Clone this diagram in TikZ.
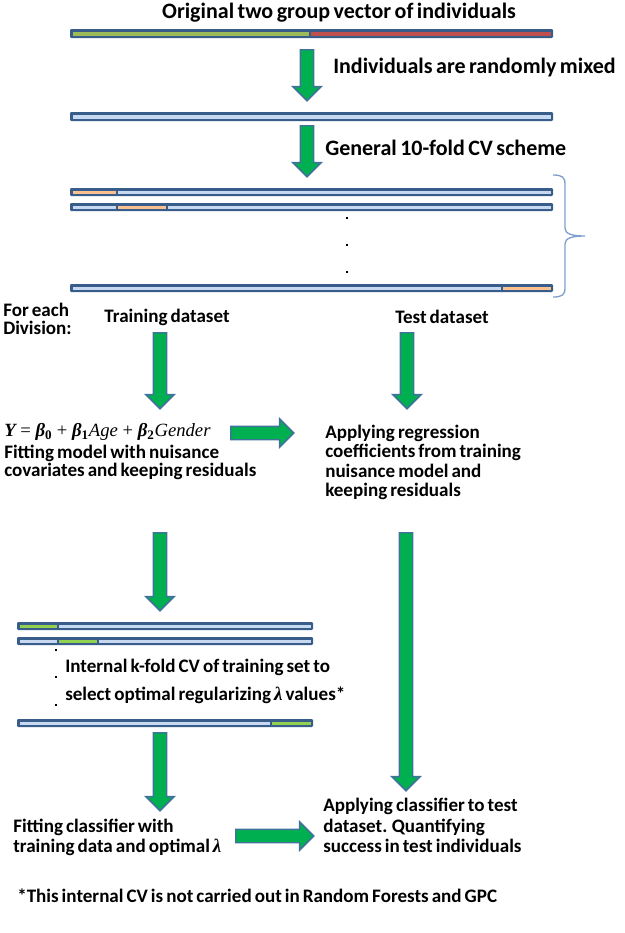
\documentclass[tikz,border=0pt]{standalone}
\usepackage{fontspec}
\setmainfont[WordSpace=0.7]{Carlito}
\newfontfamily\tms{Liberation Serif}
\usetikzlibrary{shapes.arrows,decorations.pathreplacing}
\definecolor{barblue}{HTML}{385D8A}
\definecolor{barfill}{HTML}{C6D9F1}
\definecolor{grpone}{HTML}{9BBB59}
\definecolor{grptwo}{HTML}{C0504D}
\definecolor{testorange}{HTML}{FAC090}
\definecolor{valgreen}{HTML}{92D050}
\definecolor{arrgreen}{HTML}{00B050}
\definecolor{arrblue}{HTML}{41719C}
\definecolor{bracecol}{HTML}{7F9FCF}
\newcommand{\cvbar}[5]{%
  \fill[barblue, rounded corners=0.8pt] (#1,#2) rectangle (#3,#4);
  \foreach \sa/\sb/\sc in {#5} {\fill[\sc] (\sa,#2+2.5) rectangle (\sb,#4-2.5);}
}
\newcommand{\dotmark}[2]{\fill[black] (#1-1.2,#2-1.2) rectangle (#1+1.2,#2+1.2);}
\tikzset{
  lbl/.style={font=\bfseries\fontsize{14.3}{14.6}\selectfont, inner sep=0pt, text=black},
  lblw/.style={lbl, anchor=west, align=left},
  biglbl/.style={lbl, font=\bfseries\fontsize{16.5}{18}\selectfont},
  blockarrow/.style={single arrow, draw=arrblue, fill=arrgreen, line width=1.1pt,
    inner xsep=0pt, inner ysep=4.5pt, single arrow head extend=5.6pt,
    minimum height=#1, anchor=tail},
}
\begin{document}
\begin{tikzpicture}[x=0.75pt,y=-0.75pt]
\useasboundingbox (0,0) rectangle (625,933);
% title
\node[biglbl] (title) at (339,13) {Original two group vector of individuals};
\cvbar{70}{29}{553}{38}{72.5/309/grpone, 311/550.5/grptwo}
\node[blockarrow=38.25pt, rotate=-90] (a1) at (307,49) {};
\node[biglbl, anchor=west] (mix) at (333,68) {Individuals are randomly mixed};
\cvbar{70}{112}{553}{121}{72.5/550.5/barfill}
\node[blockarrow=38.25pt, rotate=-90] (a2) at (307,125) {};
\node[biglbl, anchor=west] (gen) at (325,148) {General 10-fold CV scheme};
% outer folds
\cvbar{70}{188}{553}{196}{72.5/116/testorange, 118/550.5/barfill}
\cvbar{70}{203}{553}{211}{72.5/116/barfill, 118/166/testorange, 168/550.5/barfill}
\dotmark{347}{218}
\dotmark{347}{245}
\dotmark{347}{272}
\cvbar{70}{284}{553}{292}{72.5/501/barfill, 503/550.5/testorange}
% brace
\draw[bracecol, line width=1pt] (553,175) .. controls (562,175) and (565,177) .. (565,184)
  -- (565,228) .. controls (565,234) and (572,236) .. (585,236)
  .. controls (572,236) and (565,238) .. (565,244)
  -- (565,288) .. controls (565,295) and (562,297) .. (553,297);
% division
\node[lblw, font=\bfseries\fontsize{14.3}{13.5}\selectfont] (each) at (3,319) {For each\\Division:};
\node[lbl] (train) at (167,317) {Training dataset};
\node[lbl] (test) at (442,317) {Test dataset};
\node[blockarrow=57pt, rotate=-90] (a3) at (160,332) {};
\node[blockarrow=57pt, rotate=-90] (a4) at (407,332) {};
% regression
\node[anchor=west, inner sep=0pt, font=\tms\fontsize{14}{15}\selectfont] (formula) at (4,432)
  {\itshape \textbf{Y} {\upshape =} \textbf{β}\textsubscript{\textbf{\upshape 0}} {\upshape +} \textbf{β}\textsubscript{\textbf{\upshape 1}}Age {\upshape +} \textbf{β}\textsubscript{\textbf{\upshape 2}}Gender};
\node[blockarrow=47.25pt] (a5) at (230,433) {};
\node[lblw, font=\bfseries\fontsize{14.3}{13.5}\selectfont] (fitmodel) at (4,462) {Fitting model with nuisance\\covariates and keeping residuals};
\node[lblw] (applyreg) at (325,462.5) {Applying regression\\coefficients from training\\nuisance model and\\keeping residuals};
\node[blockarrow=58.5pt, rotate=-90] (a6) at (160,532) {};
\node[blockarrow=193.5pt, rotate=-90] (a7) at (406,532) {};
% internal CV
\cvbar{17}{622}{313}{630}{19.5/57/valgreen, 59/310.5/barfill}
\cvbar{17}{637}{313}{645}{19.5/57/barfill, 59/97/valgreen, 99/310.5/barfill}
\dotmark{56}{650}
\dotmark{56}{677}
\dotmark{56}{705}
\node[lblw, font=\bfseries\fontsize{14.3}{21}\selectfont] (internal) at (65,681) {Internal k-fold CV of training set to\\select optimal regularizing {\tms\itshape λ} values*};
\cvbar{17}{719}{313}{727}{19.5/270/barfill, 272/310.5/valgreen}
\node[blockarrow=58.5pt, rotate=-90] (a8) at (160,732) {};
% classifier
\node[lblw, font=\bfseries\fontsize{14.3}{15}\selectfont] (fitclass) at (13,837) {Fitting classifier with\\training data and optimal {\tms\itshape λ}};
\node[blockarrow=58.5pt] (a9) at (235,836) {};
\node[lblw, font=\bfseries\fontsize{14.3}{15.3}\selectfont] (applyclass) at (323,825.5) {Applying classifier to test\\dataset. Quantifying\\success in test individuals};
\node[lblw] (foot) at (17,896) {*This internal CV is not carried out in Random Forests and GPC};
\end{tikzpicture}
\end{document}
